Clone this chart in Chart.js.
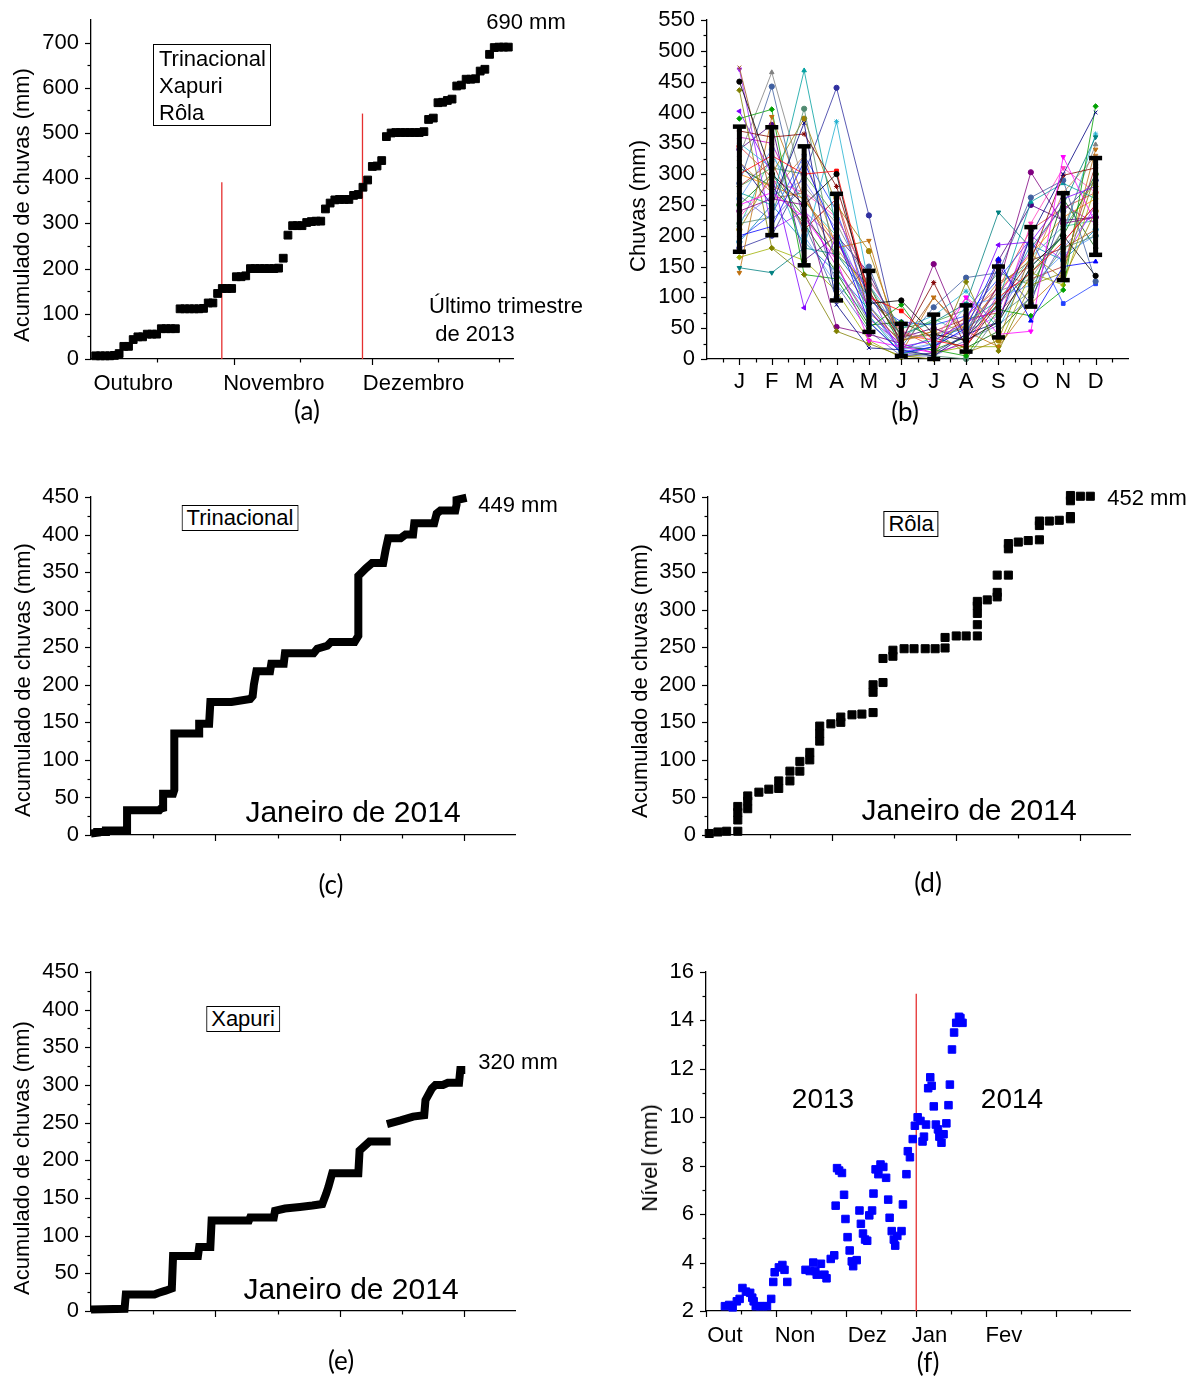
<!DOCTYPE html>
<html>
<head>
<meta charset="utf-8">
<script src="https://cdn.jsdelivr.net/npm/chart.js@4.4.1/dist/chart.umd.min.js"></script>
<style>
body { margin: 0; background: #fff; }
#fig { position: relative; width: 1196px; height: 1376px; overflow: hidden; font-family: "Liberation Sans", Arial, sans-serif; color: #000; }
canvas { position: absolute; }
.t { position: absolute; white-space: nowrap; font-size: 22px; line-height: 1; transform: translate(-50%, -50%); }
.yt { position: absolute; white-space: nowrap; font-size: 22px; line-height: 1; transform: translate(-50%, -50%) rotate(-90deg); }
.leg { position: absolute; white-space: nowrap; font-size: 22px; line-height: 1; transform: translate(-50%, -50%); border: 1px solid #000; padding: 1px 4px; background: #fff; }
.cap { position: absolute; font-family: Lato, "Open Sans", sans-serif; font-size: 26px; line-height: 1; transform: translate(-50%, -50%); }
</style>
</head>
<body>
<div id="fig">
  <canvas id="ca"></canvas>
  <canvas id="cb"></canvas>
  <canvas id="cc"></canvas>
  <canvas id="cd"></canvas>
  <canvas id="ce"></canvas>
  <canvas id="cf"></canvas>

  <!-- (a) -->
  <div class="yt" style="left:22px;top:205px">Acumulado de chuvas (mm)</div>
  <div class="t" style="left:526px;top:22px">690 mm</div>
  <div style="position:absolute;left:153px;top:44px;width:111px;height:80px;border:1px solid #000;padding-left:5px;font-size:22px;line-height:27px">Trinacional<br>Xapuri<br>Rôla</div>
  <div class="t" style="left:506px;top:306px">Último trimestre</div>
  <div class="t" style="left:475px;top:334px">de 2013</div>
  <div class="cap" style="left:307px;top:410px">(a)</div>

  <!-- (b) -->
  <div class="yt" style="left:638px;top:206px">Chuvas (mm)</div>
  <div class="cap" style="left:905px;top:411px">(b)</div>

  <!-- (c) -->
  <div class="yt" style="left:23px;top:680px">Acumulado de chuvas (mm)</div>
  <div class="leg" style="left:240px;top:518px">Trinacional</div>
  <div class="t" style="left:518px;top:505px">449 mm</div>
  <div class="t" style="left:353px;top:812px;font-size:30px">Janeiro de 2014</div>
  <div class="cap" style="left:331px;top:884px">(c)</div>

  <!-- (d) -->
  <div class="yt" style="left:640px;top:681px">Acumulado de chuvas (mm)</div>
  <div class="leg" style="left:911px;top:524px">Rôla</div>
  <div class="t" style="left:1147px;top:498px">452 mm</div>
  <div class="t" style="left:969px;top:810px;font-size:30px">Janeiro de 2014</div>
  <div class="cap" style="left:928px;top:882px">(d)</div>

  <!-- (e) -->
  <div class="yt" style="left:22px;top:1158px">Acumulado de chuvas (mm)</div>
  <div class="leg" style="left:243px;top:1019px">Xapuri</div>
  <div class="t" style="left:518px;top:1062px">320 mm</div>
  <div class="t" style="left:351px;top:1289px;font-size:30px">Janeiro de 2014</div>
  <div class="cap" style="left:341px;top:1360px">(e)</div>

  <!-- (f) -->
  <div class="yt" style="left:650px;top:1158px">Nível (mm)</div>
  <div class="t" style="left:823px;top:1099px;font-size:28px">2013</div>
  <div class="t" style="left:1012px;top:1099px;font-size:28px">2014</div>
  <div class="cap" style="left:928px;top:1362px">(f)</div>
</div>

<script>
// ---------- (a) acumulado diário, último trimestre de 2013 ----------
const acumTrimestre = [7,7,7,7,8,12,28,28,43,49, 49,55,55,55,67,67,67,67,111,111,
  111,111,111,112,124,124,145,156,156,156, 182,182,184,200,200,200,200,200,200,201,
  223,274,295,295,295,302,304,305,305,332, 345,352,353,353,353,362,364,380,396,426,
  427,439,492,500,501,501,501,501,501,501, 503,530,533,567,568,572,575,604,606,619,
  619,620,637,641,674,689,690,690,690];
const divisaoMeses = [27.9, 57.9];
const topoDivisao = [391, 543];
const mesesTrimestre = ['Outubro', 'Novembro', 'Dezembro'];
const posMesesTrimestre = [9, 39, 68.8];

// ---------- (b) chuvas mensais por ano + média e desvio ----------
const mesesAno = ['J','F','M','A','M','J','J','A','S','O','N','D'];
const mediaMensal  = [275.5, 288.5, 248.5, 181.5, 93.5, 31, 36, 49.5, 92.5, 149.5, 198.5, 247.5];
const desvioMensal = [101.5, 87.5, 96.5, 86.5, 49.5, 26, 36, 37.5, 57.5, 64.5, 70.5, 78.5];
const chuvaAno01 = [450, 300, 250, 300,  90, 95,  40,  30,  60, 150, 200, 135];
const chuvaAno02 = [300, 330, 300, 305, 100, 78,  30,  20, 100, 140, 190, 250];
const chuvaAno03 = [200, 215, 320, 200,  60, 10,  20,  50, 162,  62, 150, 158];
const chuvaAno04 = [250, 270, 230, 160,  30, 20,  10, 100,  40,  45, 328, 220];
const chuvaAno05 = [436, 180, 137,  45,  25,  5,   0, 125,  13, 120, 140, 300];
const chuvaAno06 = [320, 250, 383,  88,  18, 15,   5,  40,  60, 200, 300, 400];
const chuvaAno07 = [402, 300,  83, 200,  80, 20,  30,  60, 185, 190, 260, 280];
const chuvaAno08 = [240, 260, 250,  52,  40, 25, 154,  30, 120, 303, 220, 230];
const chuvaAno09 = [370, 360, 365, 280, 110, 30, 124,  20,  90, 160, 298, 310];
const chuvaAno10 = [148, 140, 180, 170, 100, 40,  60,  90, 238, 180, 250, 360];
const chuvaAno11 = [285, 442, 220, 100, 150, 20,  84, 132, 140, 262, 290, 126];
const chuvaAno12 = [140, 393, 260, 180, 192, 10, 100,  45,  20,  90, 140, 340];
const chuvaAno13 = [390, 405, 137, 130,  50, 88,  15,   5,  80,  70, 112, 410];
const chuvaAno14 = [330, 465, 280, 220, 120, 35,  40,  50, 110, 130, 210, 348];
const chuvaAno15 = [270, 250, 468, 210,  70,  8,  20,  60,  95, 255, 285, 260];
const chuvaAno16 = [220, 230, 406, 150,  60, 12,   5,   0,  70, 110, 180, 200];
const chuvaAno17 = [210, 300, 390, 250, 175, 30,  45,  10,  30, 170, 130, 240];
const chuvaAno18 = [180, 200, 300, 440, 233,  5,  10,  40, 150,  90, 240, 290];
const chuvaAno19 = [350, 310, 180, 385, 120, 50,  70, 110,  50, 150, 200, 365];
const chuvaAno20 = [473, 260, 270, 160,  85, 25, 100,  40, 120, 160, 180, 210];
const chuvaAno21 = [470, 210, 240, 190, 110,  5,  20,  60,  80, 200, 160, 250];
const chuvaAno22 = [165, 180, 160, 110,  30,  2,  10,  20,  20, 140, 120, 280];
const chuvaAno23 = [260, 340, 200, 120,  70, 15,  25,  85, 100, 120, 170, 200];
const chuvaAno24 = [230, 290, 270, 230, 130, 45,  30, 100,  60, 220, 310, 270];
const chuvaAno25 = [310, 280, 220, 140,  55, 60,  35,  18,  45, 100, 260, 180];
const chuvaAno26 = [195, 235, 330, 240,  95, 60,  55,  70, 130, 195,  90, 122];
const chuvaAno27 = [340, 380, 160, 200, 140, 35,  50,  30, 160, 250, 225, 230];
const chuvaAno28 = [280, 320, 210, 260,  75, 30,  45,  65,  75, 130, 150, 315];
const chuvaAno29 = [300, 280, 260, 190, 100, 40,  30,  55, 110, 170, 230, 260];
const chuvaAno30 = [250, 300, 230, 170, 120, 20,  15,  35,  90, 140, 200, 300];
const chuvaAno31 = [225, 265, 290, 210,  90, 10,  25,  45,  70, 160, 180, 240];
const chuvaAno32 = [360, 350, 240, 150,  65, 25,  10,  25, 105, 175, 250, 220];
const chuvaAno33 = [280, 310, 300, 230, 130, 50,  60,  80, 140, 120, 210, 290];
const chuvaAno34 = [190, 250, 190, 140,  80, 15,  35,  50,  85, 185, 160, 210];
const chuvaAno35 = [320, 270, 330, 180, 110, 30,  40,  60, 125, 150, 270, 330];
const chuvaAno36 = [265, 225, 280, 120,  45,  5,   5,  30,  55, 100, 190, 250];
const chuvaAno37 = [345, 295, 210, 260, 105, 45,  20,  70, 115, 210, 245, 270];
const chuvaAno38 = [215, 330, 255, 200,  85, 35,  65,  40,  95, 165, 215, 225];

// ---------- (c) Trinacional, janeiro de 2014 ----------
const diaTrinacional = [0,0.5,0.5,1.2,1.2, 2.9,2.9,5.5,5.6,5.8, 5.8,6.6,6.7,6.7,8.7, 8.7,9.5,9.6,11.3,12.8,
  13.0,13.1,13.3,14.4,14.5, 15.5,15.6,17.9,18.2,19.0, 19.3,21.2,21.5,21.5,22.1, 22.6,23.5,23.7,23.9,24.9,
  25.3,25.9,26.0,27.6,27.8, 28.1,29.3,29.4,29.4,30.2];
const acumTrinacional = [2,3,4,4,6, 6,33,33,35,36, 55,55,60,135,135, 148,148,177,177,181,
  185,200,218,218,228, 228,242,242,248,252, 257,257,265,345,355, 362,362,380,395,395,
  400,400,415,415,428, 432,432,440,446,449];

// ---------- (d) Rôla, janeiro de 2014 ----------
const diaRola = [0.1,0.8,1.5,2.4,2.4,2.4,2.4,3.2,3.2,3.2, 4.1,4.9,5.7,5.7,6.6,6.6,7.4,7.4,8.2,8.2,
  9.0,9.0,9.0,9.9,10.7,10.7,11.6,12.4,13.3,13.3, 13.3,14.1,14.1,14.9,14.9,15.8,16.6,17.5,18.3,19.1,
  19.1,20.0,20.8,21.7,21.7,21.7,21.7,21.7,22.5,23.3, 23.3,23.3,24.2,24.2,24.2,25.0,25.8,26.7,26.7,26.7,
  27.5,28.3,29.2,29.2,29.2,29.2,30.0,30.8];
const acumRola = [2,4,5,5,20,30,38,35,45,52, 57,61,62,72,72,85,85,98,100,110,
  125,135,145,148,150,157,160,161,163,190, 200,203,235,238,246,248,248,248,248,249,
  263,265,265,265,280,295,305,311,313,317, 323,346,346,381,388,390,392,393,412,418,
  418,419,421,424,445,452,451,451];

// ---------- (e) Xapuri, janeiro de 2014 ----------
const diaXapuri = [0,2.7,2.8,5.1,5.4, 6.0,6.5,6.6,8.6,8.7, 9.6,9.7,12.7,12.8,14.7, 14.8,15.6,16.8,17.8,18.6,
  18.9,19.1,19.4,21.5,21.6, 22.4,24.1,24.0,23.8,24.9, 25.9,26.8,26.9,27.4,27.7, 28.3,28.7,29.6,29.7,30.1];
const acumXapuri = [2,3,22,22,24, 27,30,73,73,85, 85,120,120,124,124, 133,136,138,140,142,
  155,165,183,183,213, 225,225,null,248,253, 258,260,280,295,300, 300,303,303,320,320];

// ---------- (f) nível, out/2013 a jan/2014 (x em meses desde 1º de outubro) ----------
const mesNivel = [0.27,0.33,0.38,0.44,0.48,0.52,0.57,0.63,0.66,0.68, 0.71,0.77,0.82,0.87,0.93,0.96,0.98,1.04,1.09,1.12,
  1.16,1.42,1.48,1.53,1.56,1.58,1.64,1.69,1.72,1.78, 1.83,1.85,1.87,1.90,1.94,1.97,1.99,2.02,2.05,2.08,
  2.10,2.15,2.19,2.21,2.24,2.27,2.30,2.33,2.37,2.39, 2.42,2.46,2.49,2.53,2.57,2.60,2.62,2.65,2.68,2.70,
  2.73,2.79,2.81,2.86,2.88,2.91,2.95,2.98,3.02,3.06, 3.09,3.11,3.14,3.17,3.20,3.22,3.25,3.28,3.31,3.33,
  3.36,3.39,3.43,3.46,3.48,3.51,3.54,3.57,3.61,3.63, 3.66];
const nivel = [2.2,2.25,2.15,2.4,2.5,2.95,2.8,2.75,2.55,2.4, 2.2,2.2,2.2,2.2,2.5,3.2,3.6,3.8,3.9,3.7,
  3.2,3.7,3.65,4.0,3.65,3.5,3.95,3.5,3.35,4.15, 4.3,6.35,7.9,7.8,7.7,6.8,5.8,5.05,4.5,4.05,
  3.85,4.1,6.15,5.6,5.2,4.95,4.9,5.95,6.15,6.85, 7.85,7.65,8.05,7.95,7.5,6.6,5.85,5.3,4.95,4.7,
  5.1,5.3,6.4,7.65,8.6,8.35,9.1,9.65,10.0,9.85, 9.0,9.2,9.7,11.2,11.65,11.3,10.45,9.7,9.5,9.2,
  8.95,9.3,9.75,10.5,11.35,12.8,13.5,13.9,14.15,14.1, 13.9];
const mesesNivel = ['Out', 'Non', 'Dez', 'Jan', 'Fev'];
const posMesesNivel = [0.27, 1.27, 2.3, 3.19, 4.25];
const inicioAno = 3;

// ---------- helpers ----------
Chart.defaults.font.family = '"Liberation Sans", Arial, sans-serif';
Chart.defaults.font.size = 22;
Chart.defaults.color = '#000';
Chart.defaults.animation = false;

function faixa(a, b, passo) {
  const r = [];
  for (let v = a; v <= b + 1e-9; v += passo) r.push(Math.round(v * 1000) / 1000);
  return r;
}

// tick marks (outward, Origin style)
const marcasEixo = {
  id: 'marcasEixo',
  afterDraw(chart, args, opts) {
    const ctx = chart.ctx;
    ctx.save();
    ctx.strokeStyle = '#000';
    ctx.lineWidth = 1.2;
    for (const id of ['x', 'y']) {
      const s = chart.scales[id];
      const m = opts[id];
      if (!m) continue;
      for (const [vals, len] of [[m.maior, 6], [m.menor, 3.5]]) {
        for (const v of vals) {
          const p = Math.round(s.getPixelForValue(v)) + 0.5;
          ctx.beginPath();
          if (id === 'x') { ctx.moveTo(p, s.top); ctx.lineTo(p, s.top + len); }
          else { ctx.moveTo(s.right, p); ctx.lineTo(s.right - len, p); }
          ctx.stroke();
        }
      }
    }
    ctx.restore();
  }
};

function eixo(min, max, valores, rotulos, padding, mostrar) {
  return {
    type: 'linear', min: min, max: max,
    grid: { display: false, drawTicks: false },
    border: { display: true, color: '#000', width: 1.3 },
    afterBuildTicks: s => { s.ticks = valores.map(v => ({ value: v })); },
    ticks: {
      display: mostrar, autoSkip: false, maxRotation: 0, padding: padding,
      callback: (v, i) => rotulos ? rotulos[i] : v
    }
  };
}

function painel(id, caixa, area, cfg) {
  const cv = document.getElementById(id);
  cv.width = caixa[2]; cv.height = caixa[3];
  cv.style.left = caixa[0] + 'px'; cv.style.top = caixa[1] + 'px';
  const larguraY = area[0] - caixa[0];
  const alturaX = 40;
  cfg.options.responsive = false;
  cfg.options.layout = { padding: { left: 0, top: area[1] - caixa[1],
    right: caixa[0] + caixa[2] - area[2], bottom: caixa[1] + caixa[3] - area[3] - alturaX } };
  cfg.options.scales.y.afterFit = s => { s.width = larguraY; };
  cfg.options.scales.x.afterFit = s => { s.height = alturaX; };
  cfg.options.plugins.legend = { display: false };
  cfg.options.plugins.tooltip = { enabled: false };
  cfg.plugins = [marcasEixo];
  return new Chart(cv, cfg);
}

const pares = (xs, ys) => xs.map((x, i) => ({ x: x, y: ys[i] }));
const quadrado = (cor, r) => ({ pointStyle: 'rect', pointRadius: r, pointBackgroundColor: cor,
  pointBorderColor: cor, pointBorderWidth: 1, showLine: false, clip: false });
const linhaVermelha = (x, y0, y1) => ({ data: [{ x: x, y: y0 }, { x: x, y: y1 }], showLine: true,
  borderColor: '#e53030', borderWidth: 1.3, pointRadius: 0, clip: false });

// ---------- (a) ----------
painel('ca', [0, -12, 598, 452], [91, 20, 513, 359], {
  type: 'scatter',
  data: { datasets: [
    Object.assign({ data: acumTrimestre.map((v, i) => ({ x: i + 1, y: v })) }, quadrado('#000', 5.5)),
    linhaVermelha(divisaoMeses[0], 0, topoDivisao[0]),
    linhaVermelha(divisaoMeses[1], 0, topoDivisao[1])
  ] },
  options: {
    scales: {
      x: eixo(0, 90, posMesesTrimestre, mesesTrimestre, 12, true),
      y: eixo(0, 750, faixa(0, 700, 100), null, 12, true)
    },
    plugins: { marcasEixo: { x: { maior: [30.5, 60], menor: [14, 44.5, 74, 87] },
      y: { maior: faixa(0, 700, 100), menor: faixa(50, 650, 100) } } }
  }
});

// ---------- (b) ----------
const anos = [chuvaAno01, chuvaAno02, chuvaAno03, chuvaAno04, chuvaAno05, chuvaAno06, chuvaAno07,
  chuvaAno08, chuvaAno09, chuvaAno10, chuvaAno11, chuvaAno12, chuvaAno13, chuvaAno14, chuvaAno15,
  chuvaAno16, chuvaAno17, chuvaAno18, chuvaAno19, chuvaAno20, chuvaAno21, chuvaAno22, chuvaAno23,
  chuvaAno24, chuvaAno25, chuvaAno26, chuvaAno27, chuvaAno28, chuvaAno29, chuvaAno30, chuvaAno31,
  chuvaAno32, chuvaAno33, chuvaAno34, chuvaAno35, chuvaAno36, chuvaAno37, chuvaAno38];
const cores = ['#000000','#ff0000','#0000ff','#ff00ff','#808000','#000080','#8000ff','#800080',
  '#800000','#008080','#4060a0','#c07010','#00a000','#808080','#00a0a0','#508a70','#a08000',
  '#3030a0','#20b0d0','#a05020','#a020ff','#a0b000','#60a0ff','#ff40c0','#006000','#2040ff',
  '#4b0082','#b03030','#ff8000','#008000','#8080ff','#c000c0','#40a040','#0080c0','#c08040',
  '#6060c0','#e04040','#30c0a0'];
const estilos = [['circle',0],['rect',0],['triangle',0],['triangle',180],['rectRot',0],['crossRot',0],
  ['triangle',270],['circle',0],['star',0],['triangle',180],['circle',0],['triangle',180],['rectRot',0],
  ['triangle',0],['triangle',0],['circle',0],['circle',0],['circle',0],['star',0],['crossRot',0],
  ['triangle',180],['rectRot',0],['circle',0],['triangle',180],['rectRot',0],['rect',0],['circle',0],['star',0],
  ['triangle',90],['circle',0],['rect',0],['triangle',0],['rectRot',0],['circle',0],['triangle',180],
  ['crossRot',0],['circle',0],['triangle',270]];

const barras = [];
mediaMensal.forEach((m, i) => {
  barras.push({ x: i + 1, y: m - desvioMensal[i] }, { x: i + 1, y: m + desvioMensal[i] }, { x: i + 1, y: null });
});

const dsAnos = anos.map((serie, k) => ({
  data: serie.map((v, i) => ({ x: i + 1, y: v })),
  showLine: true, borderColor: cores[k], borderWidth: 0.8,
  pointStyle: estilos[k][0], pointRotation: estilos[k][1], pointRadius: 2.6,
  pointBackgroundColor: cores[k], pointBorderColor: cores[k], pointBorderWidth: 1, clip: false
}));
dsAnos.push({
  data: barras, showLine: true, spanGaps: false, borderColor: '#000', borderWidth: 5,
  pointStyle: 'line', pointRadius: 6.5, pointBorderColor: '#000', pointBorderWidth: 4.5, order: -1, clip: false
});

painel('cb', [598, -12, 598, 452], [707, 20, 1128, 359], {
  type: 'scatter',
  data: { datasets: dsAnos },
  options: {
    scales: {
      x: eixo(0, 13, faixa(1, 12, 1), mesesAno, 10, true),
      y: eixo(0, 550, faixa(0, 550, 50), null, 12, true)
    },
    plugins: { marcasEixo: { x: { maior: faixa(1, 12, 1), menor: faixa(0.5, 12.5, 1) },
      y: { maior: faixa(0, 550, 50), menor: faixa(25, 525, 50) } } }
  }
});

// ---------- (c), (d), (e) ----------
const marcasJaneiro = { x: { maior: [10, 20, 30], menor: [5, 15, 25] },
  y: { maior: faixa(0, 450, 50), menor: faixa(25, 425, 50) } };
const linhaGrossa = { showLine: true, spanGaps: false, borderColor: '#000', borderWidth: 8,
  borderJoinStyle: 'miter', borderCapStyle: 'butt', pointRadius: 0, clip: false };

painel('cc', [0, 470, 598, 450], [91, 497, 515, 835], {
  type: 'scatter',
  data: { datasets: [Object.assign({ data: pares(diaTrinacional, acumTrinacional) }, linhaGrossa)] },
  options: {
    scales: { x: eixo(0, 34.1, [0], null, 10, false), y: eixo(0, 450, faixa(0, 450, 50), null, 12, true) },
    plugins: { marcasEixo: marcasJaneiro }
  }
});

painel('cd', [598, 470, 598, 450], [708, 497, 1130, 835], {
  type: 'scatter',
  data: { datasets: [Object.assign({ data: pares(diaRola, acumRola) }, quadrado('#000', 5.7))] },
  options: {
    scales: { x: eixo(0, 34, [0], null, 10, false), y: eixo(0, 450, faixa(0, 450, 50), null, 12, true) },
    plugins: { marcasEixo: marcasJaneiro }
  }
});

painel('ce', [0, 940, 598, 436], [91, 972, 515, 1311], {
  type: 'scatter',
  data: { datasets: [Object.assign({ data: pares(diaXapuri, acumXapuri) }, linhaGrossa)] },
  options: {
    scales: { x: eixo(0, 34.1, [0], null, 10, false), y: eixo(0, 450, faixa(0, 450, 50), null, 12, true) },
    plugins: { marcasEixo: marcasJaneiro }
  }
});

// ---------- (f) ----------
painel('cf', [598, 940, 598, 436], [706, 972, 1130, 1311], {
  type: 'scatter',
  data: { datasets: [
    Object.assign({ data: pares(mesNivel, nivel) }, quadrado('#0000ff', 5.3)),
    linhaVermelha(inicioAno, 2, 15.1)
  ] },
  options: {
    scales: {
      x: eixo(0, 6.05, posMesesNivel, mesesNivel, 12, true),
      y: eixo(2, 16, faixa(2, 16, 2), null, 12, true)
    },
    plugins: { marcasEixo: { x: { maior: faixa(0, 5, 1), menor: faixa(0.5, 5.5, 1) },
      y: { maior: faixa(2, 16, 2), menor: faixa(3, 15, 2) } } }
  }
});
</script>
</body>
</html>
